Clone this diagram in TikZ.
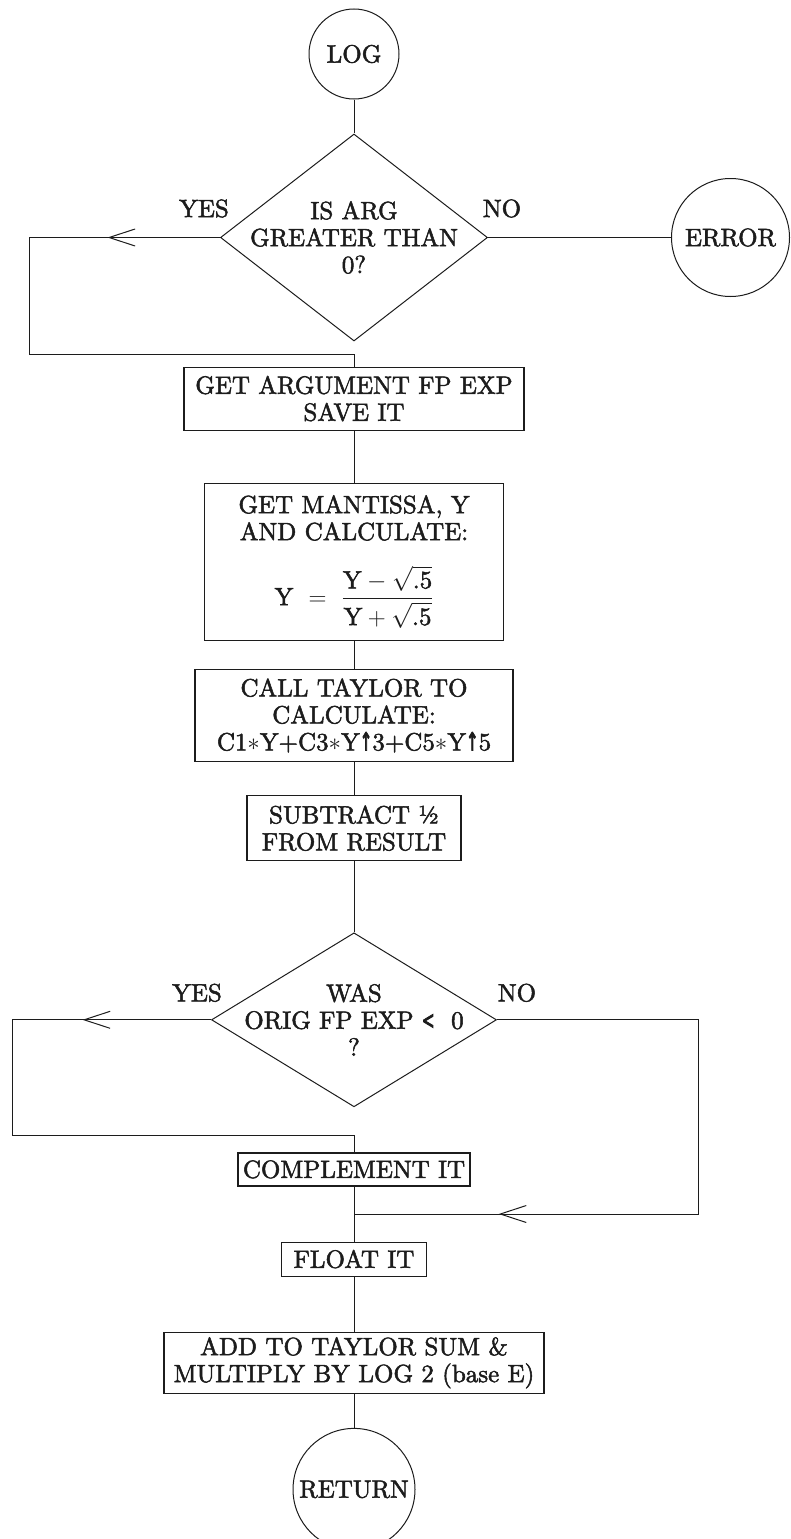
\documentclass[tikz,border=0pt]{standalone}
\usepackage{amsmath,amssymb}
\usepackage{fontspec}
\usepackage{xcolor}
\usepackage{tikz}
\usetikzlibrary{arrows.meta,positioning,shapes.geometric,calc,decorations.markings}
\definecolor{ink}{HTML}{1C1C1C}
\newfontfamily\flowface{lmroman10-regular.otf}[FakeBold=2]
\newfontfamily\symface{DejaVu Sans}[FakeBold=3, FakeStretch=0.6]
\newcommand{\flowfont}{\flowface\fontsize{25}{27}\selectfont}
\newcommand{\heavyup}{{\symface ↑}}
\newcommand{\heavylt}{{\symface <}}
\tikzset{
  terminal/.style={circle, draw=ink, text=ink, line width=1pt, font=\flowfont, inner sep=2pt},
  process/.style={rectangle, draw=ink, text=ink, line width=1.2pt, align=center, font=\flowfont, inner sep=0pt},
  decision/.style={diamond, draw=ink, line width=1pt, inner sep=0pt},
  decisiontext/.style={align=center, text=ink, font=\flowfont, inner sep=0pt},
  branchlabel/.style={text=ink, font=\flowfont, inner sep=0pt},
  flow/.style={draw=ink, line width=1pt},
  arrowat/.style={postaction={decorate}, decoration={markings, mark=at position #1 with {\arrow{Straight Barb[length=26pt, width=17pt, line width=1pt]}}}}
}

\begin{document}
\begin{tikzpicture}[x=1pt, y=1pt, node distance=30pt]
  \useasboundingbox (0,0) rectangle (790,-1539);
  \node[terminal, minimum size=90pt] (log) at (354,-54) {LOG};
  \node[decision, minimum width=267pt, minimum height=207pt, below=34pt of log,
        label={[decisiontext]center:IS ARG\\GREATER THAN\\0?}] (argpos) {};
  \node[terminal, minimum size=118pt, right=183pt of argpos] (error) {ERROR};
  \node[process, minimum width=340pt, minimum height=63pt, below=25pt of argpos] (getexp) {GET ARGUMENT FP EXP\\SAVE IT};
  \node[process, minimum width=299pt, minimum height=157pt, below=52pt of getexp] (mantissa)
    {GET MANTISSA, Y\\AND CALCULATE:\\[24pt]$\text{Y}\ =\ \dfrac{\text{Y}-\sqrt{\text{.5}}}{\text{Y}+\sqrt{\text{.5}}}$};
  \node[process, minimum width=318pt, minimum height=92pt, below=28pt of mantissa] (taylor)
    {CALL TAYLOR TO\\CALCULATE:\\C1$\ast$Y+C3$\ast$Y\heavyup3+C5$\ast$Y\heavyup5};
  \node[process, minimum width=214pt, minimum height=65pt, below=33pt of taylor] (subhalf) {SUBTRACT ½\\FROM RESULT};
  \node[decision, minimum width=285pt, minimum height=174pt, below=71pt of subhalf,
        label={[decisiontext]center:WAS\\ORIG FP EXP \heavylt\ \ 0\\?}] (origneg) {};
  \node[process, minimum width=232pt, minimum height=33pt, below=45pt of origneg] (complement) {COMPLEMENT IT};
  \node[process, minimum width=145pt, minimum height=34pt, below=55pt of complement] (floatit) {FLOAT IT};
  \node[process, minimum width=380pt, minimum height=61pt, below=55pt of floatit] (addlog) {ADD TO TAYLOR SUM \&\\MULTIPLY BY LOG 2 (base E)};
  \node[terminal, minimum size=122pt, below=34pt of addlog] (return) {RETURN};
  % branch labels
  \node[branchlabel] (yesarg) at ([shift={(-16,29)}]argpos.west) {YES};
  \node[branchlabel] (noarg) at ([shift={(14,29)}]argpos.east) {NO};
  \node[branchlabel] (yesorig) at ([shift={(-14,27)}]origneg.west) {YES};
  \node[branchlabel] (noorig) at ([shift={(20,27)}]origneg.east) {NO};
  % connectors
  \draw[flow] (log) -- (argpos);
  \draw[flow] (argpos) -- (error);
  \draw[flow, arrowat=112.5pt] (argpos.west) -- ++(-190.5,0) |- ([yshift=12pt]getexp.north) -- (getexp.north);
  \draw[flow] (getexp) -- (mantissa);
  \draw[flow] (mantissa) -- (taylor);
  \draw[flow] (taylor) -- (subhalf);
  \draw[flow] (subhalf) -- (origneg);
  \draw[flow, arrowat=128.5pt] (origneg.west) -- ++(-198.5,0) |- ([yshift=17pt]complement.north) -- (complement.north);
  \coordinate (rejoin) at ($(complement.south)!0.5!(floatit.north)$);
  \draw[flow, arrowat=595.5pt] (origneg.east) -- ++(201.5,0) |- (rejoin);
  \draw[flow] (complement) -- (floatit);
  \draw[flow] (floatit) -- (addlog);
  \draw[flow] (addlog) -- (return);
\end{tikzpicture}
\end{document}
